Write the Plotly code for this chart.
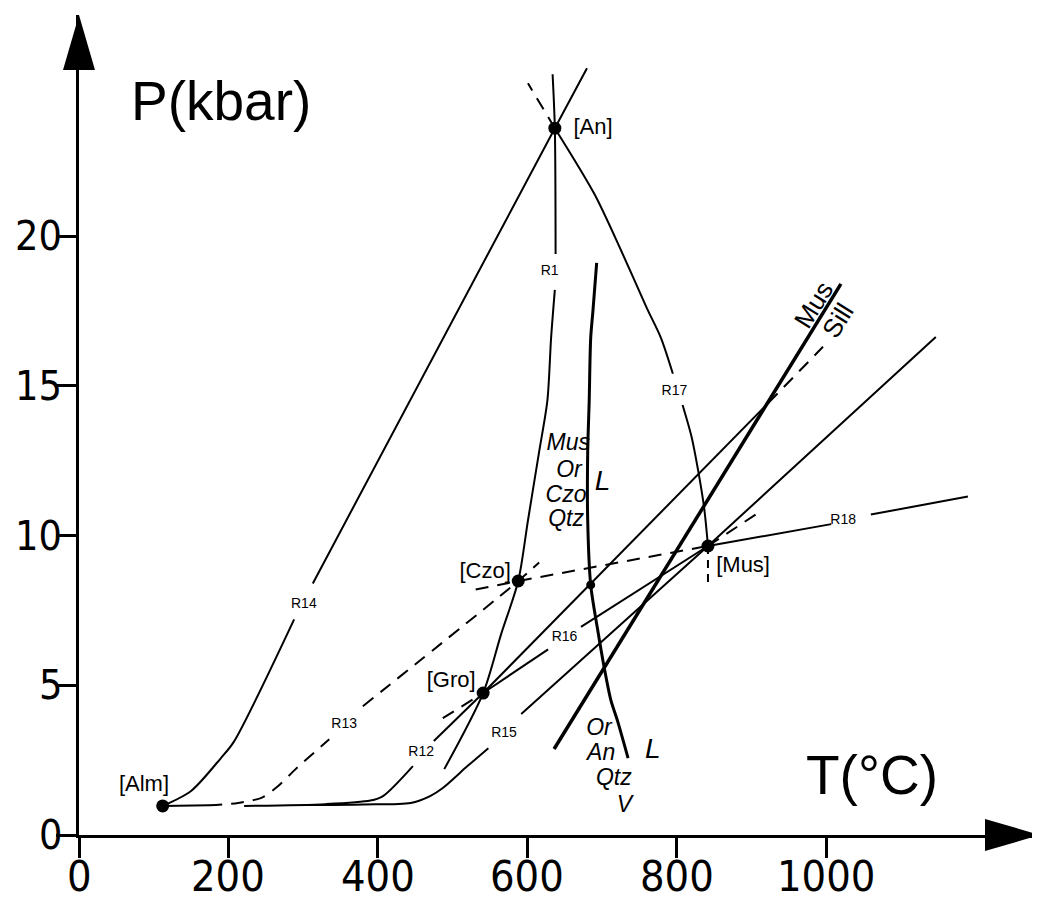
import plotly.graph_objects as go

# ---------------- data ----------------
X_TICKS = [0, 200, 400, 600, 800, 1000]
Y_TICKS = [0, 5, 10, 15, 20]

# invariant points
INV_LABELS = ["[An]", "[Czo]", "[Gro]", "[Mus]", "[Alm]"]
INV_T = [637, 588, 541, 842, 112]
INV_P = [23.6, 8.48, 4.74, 9.65, 0.97]
INV_LABEL_T = [662, 578, 531, 853, 87]
INV_LABEL_P = [23.6, 8.75, 5.14, 8.98, 1.64]
INV_LABEL_POS = ["middle right", "middle left", "middle left", "middle right", "middle center"]

SING_T = [685]
SING_P = [8.35]

# reaction curves (None = gap left for a label)
R1_T = [634, 637, 638, None, 637, 632, 627, 616, 601, 588, 565, 541, 489]
R1_P = [25.4, 23.6, 19.4, None, 18.2, 16.6, 14.5, 12.8, 10.5, 8.48, 6.7, 4.74, 2.2]

R14_T = [112, 150, 190, 207, 288, None, 313, 637, 680]
R14_P = [0.97, 1.47, 2.57, 3.1, 7.2, None, 8.4, 23.6, 25.6]

R17_T = [637, 690, 726, 760, 779, 795, None, 808, 820, 829, 837, 842]
R17_P = [23.6, 21.4, 19.5, 17.6, 16.6, 15.4, None, 14.36, 13.3, 12.15, 10.9, 9.65]
R17_META_T = [637, 601]
R17_META_P = [23.6, 25.1]
R17_BELOW_T = [842, 842]
R17_BELOW_P = [9.65, 8.4]

MELT_T = [693, 688, 685, 683, 681, 681, 685, 694, 703, 712, 721, 735]
MELT_P = [19.1, 17.5, 16.6, 14.5, 12.8, 10.5, 8.35, 6.9, 5.6, 4.5, 3.8, 2.57]

MUSSILL_T = [636, 1020]
MUSSILL_P = [2.87, 18.4]

G1_T = [541, 923]
G1_P = [4.74, 14.43]
G1_META_T = [923, 996]
G1_META_P = [14.43, 16.3]

R15_T = [300, 380, 444, 470, 487, 520, 548, None, 592, 842, 1147]
R15_P = [1.0, 1.02, 1.07, 1.3, 1.57, 2.3, 2.9, None, 4.04, 9.65, 16.63]

R12_T = [221, 330, 390, 407, 447, None, 475, 541]
R12_P = [0.97, 1.03, 1.15, 1.3, 2.3, None, 3.14, 4.74]

R13_SOLID_T = [112, 174]
R13_SOLID_P = [0.97, 0.99]
R13_T = [174, 213, 245, 265, 290, 335, None, 380, 588, 616]
R13_P = [0.99, 1.07, 1.25, 1.6, 2.2, 3.2, None, 4.3, 8.48, 9.1]

R18_META_T = [531, 588, 842]
R18_META_P = [8.2, 8.48, 9.65]
R18_T = [842, 1007, None, 1060, 1190]
R18_P = [9.65, 10.38, None, 10.7, 11.3]

R16_T = [541, 628, None, 672, 842]
R16_P = [4.74, 6.2, None, 6.95, 9.65]
R16_META_LO_T = [487, 541]
R16_META_LO_P = [3.9, 4.74]
R16_META_HI_T = [842, 915]
R16_META_HI_P = [9.65, 10.85]

RLABELS = ["R1", "R17", "R14", "R13", "R12", "R15", "R16", "R18"]
RLABEL_T = [630, 797, 301, 355, 458, 569, 650, 1023]
RLABEL_P = [18.8, 14.8, 7.7, 3.7, 2.77, 3.4, 6.6, 10.5]

PHASE_TEXT = ["Mus", "Or", "Czo", "Qtz", "L", "Or", "An", "Qtz", "V", "L"]
PHASE_T = [655, 656, 652, 652, 701, 696, 699, 716, 730, 768]
PHASE_P = [13.05, 12.15, 11.3, 10.5, 11.75, 3.54, 2.7, 1.87, 0.97, 2.8]
PHASE_SIZE = [23, 23, 23, 23, 28, 23, 23, 23, 23, 28]

MS_TEXT = ["Mus", "Sill"]
MS_T = [983, 1016]
MS_P = [17.7, 17.2]

AXIS_TITLES = ["P(kbar)", "T(°C)"]
AXIS_TITLE_T = [190, 1062]
AXIS_TITLE_P = [24.5, 2.0]

# ---------------- layout geometry ----------------
# the page body has an 8 px margin, so the figure is offset by 8 px
BODY = 8
W, H = 1040 - BODY, 907 - BODY
X0PIX, Y0PIX, TOPPIX = 79 - BODY, 835 - BODY, 15 - BODY
PX_PER_T = 0.747
PX_PER_P = 29.95
XMAX = (W - X0PIX) / PX_PER_T
YMAX = (Y0PIX - TOPPIX) / PX_PER_P

FONT = "Liberation Sans, Arial, sans-serif"
TICKFONT = "Liberation Sans Narrow, Arial Narrow, DejaVu Sans Condensed, Liberation Sans, sans-serif"
BLACK = "#000000"

fig = go.Figure()


def line(t, p, width=2.0, dash="solid", shape="linear"):
    fig.add_trace(go.Scatter(
        x=t, y=p, mode="lines", connectgaps=False, hoverinfo="skip",
        line=dict(color=BLACK, width=width, dash=dash, shape=shape, smoothing=0.8),
        showlegend=False))


DASH = "13px,9px"
line(R1_T, R1_P, shape="spline")
line(R14_T, R14_P, shape="spline")
line(R17_T, R17_P, shape="spline")
line(R17_META_T, R17_META_P, dash=DASH)
line(R17_BELOW_T, R17_BELOW_P, dash="8px,6px")
line(MELT_T, MELT_P, width=3.0, shape="spline")
line(MUSSILL_T, MUSSILL_P, width=3.5)
line(G1_T, G1_P)
line(G1_META_T, G1_META_P, dash=DASH)
line(R15_T, R15_P, shape="spline")
line(R12_T, R12_P, shape="spline")
line(R13_SOLID_T, R13_SOLID_P)
line(R13_T, R13_P, dash=DASH, shape="spline")
line(R18_META_T, R18_META_P, dash=DASH)
line(R18_T, R18_P)
line(R16_T, R16_P)
line(R16_META_LO_T, R16_META_LO_P, dash=DASH)
line(R16_META_HI_T, R16_META_HI_P, dash=DASH)

# invariant points
fig.add_trace(go.Scatter(x=INV_T, y=INV_P, mode="markers", hoverinfo="skip",
                         marker=dict(color=BLACK, size=13), showlegend=False, cliponaxis=False))
fig.add_trace(go.Scatter(x=SING_T, y=SING_P, mode="markers", hoverinfo="skip",
                         marker=dict(color=BLACK, size=9), showlegend=False))

# invariant point labels
for txt, t, p, pos in zip(INV_LABELS, INV_LABEL_T, INV_LABEL_P, INV_LABEL_POS):
    fig.add_trace(go.Scatter(x=[t], y=[p], mode="text", text=[txt], textposition=pos,
                             textfont=dict(family=FONT, size=22, color=BLACK),
                             hoverinfo="skip", showlegend=False, cliponaxis=False))

# reaction labels
fig.add_trace(go.Scatter(x=RLABEL_T, y=RLABEL_P, mode="text", text=RLABELS,
                         textposition="middle center",
                         textfont=dict(family=FONT, size=14, color=BLACK),
                         hoverinfo="skip", showlegend=False, cliponaxis=False))

# phase labels (italic)
fig.add_trace(go.Scatter(x=PHASE_T, y=PHASE_P, mode="text",
                         text=["<i>%s</i>" % s for s in PHASE_TEXT],
                         textposition="middle center",
                         textfont=dict(family=FONT, size=PHASE_SIZE, color=BLACK),
                         hoverinfo="skip", showlegend=False, cliponaxis=False))

# Mus / Sill rotated
for txt, t, p in zip(MS_TEXT, MS_T, MS_P):
    fig.add_annotation(x=t, y=p, text=txt, showarrow=False, textangle=-58,
                       font=dict(family=FONT, size=26, color=BLACK))

# axis titles
for txt, t, p in zip(AXIS_TITLES, AXIS_TITLE_T, AXIS_TITLE_P):
    fig.add_annotation(x=t, y=p, text=txt, showarrow=False,
                       font=dict(family=FONT, size=55, color=BLACK))

# tick labels (placed as annotations next to the tick marks)
for v in X_TICKS:
    fig.add_annotation(x=v, y=0, text=str(v), showarrow=False, yanchor="top",
                       xanchor="center", yshift=-14,
                       font=dict(family=TICKFONT, size=43, color=BLACK))
for v in Y_TICKS:
    fig.add_annotation(x=0, y=v, text=str(v), showarrow=False, yanchor="middle",
                       xanchor="right", xshift=-16, borderpad=0,
                       font=dict(family=TICKFONT, size=41, color=BLACK))

# arrowheads at the ends of the axes (paper coordinates)
pw = W - X0PIX
ph = Y0PIX - TOPPIX
ah_len, ah_half = 55, 16
fig.add_shape(type="path", xref="paper", yref="paper", fillcolor=BLACK, line=dict(width=0),
              path="M 0,1 L %f,%f L %f,%f Z" % (ah_half / pw, 1 - ah_len / ph,
                                                -ah_half / pw, 1 - ah_len / ph))
fig.add_shape(type="path", xref="paper", yref="paper", fillcolor=BLACK, line=dict(width=0),
              path="M 1,0 L %f,%f L %f,%f Z" % (1 - ah_len / pw, ah_half / ph,
                                                1 - ah_len / pw, -ah_half / ph))

axis_common = dict(showgrid=False, zeroline=False, showline=True, linecolor=BLACK,
                   linewidth=3, ticks="outside", ticklen=20, tickwidth=2.5,
                   automargin=False, showticklabels=False, tickcolor=BLACK)

fig.update_layout(
    width=W, height=H, autosize=False,
    margin=dict(l=X0PIX, r=0, t=TOPPIX, b=H - Y0PIX, pad=0),
    paper_bgcolor="white", plot_bgcolor="white",
    xaxis=dict(range=[0, XMAX], tickvals=X_TICKS, **axis_common),
    yaxis=dict(range=[0, YMAX], tickvals=Y_TICKS, **axis_common),
    showlegend=False,
)

fig.write_html("out.html")
